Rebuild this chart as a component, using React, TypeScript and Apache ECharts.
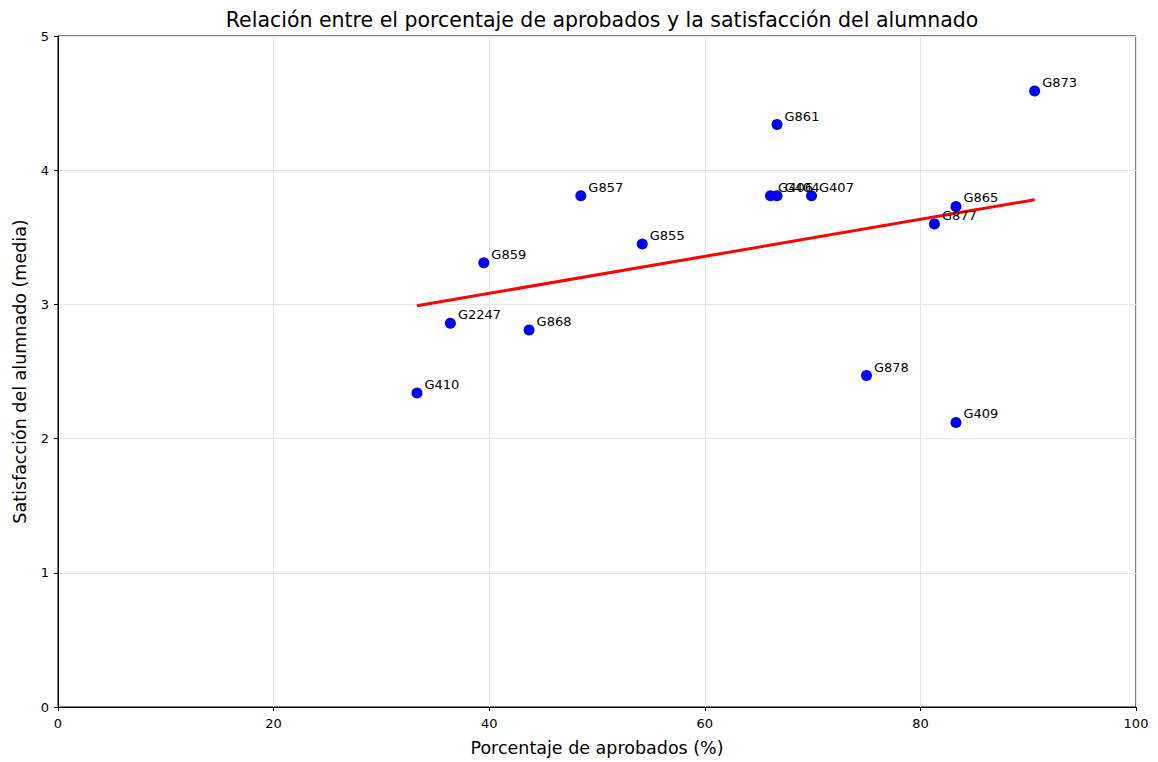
import React, { useEffect, useRef } from "react";
import * as echarts from "echarts";

const groups = ["G873", "G861", "G857", "G406", "G404", "G407", "G865", "G877", "G855", "G859", "G2247", "G868", "G410", "G878", "G409"];
const aprobados = [90.6, 66.7, 48.5, 66.1, 66.7, 69.9, 83.3, 81.3, 54.2, 39.5, 36.4, 43.7, 33.3, 75.0, 83.3];
const satisfaccion = [4.59, 4.34, 3.81, 3.81, 3.81, 3.81, 3.73, 3.60, 3.45, 3.31, 2.86, 2.81, 2.34, 2.47, 2.12];
const trendX = [33.3, 90.6];
const trendY = [2.99, 3.78];

const FONT = "DejaVu Sans";

export default function App() {
  const ref = useRef<HTMLDivElement>(null);
  useEffect(() => {
    document.body.style.margin = "0";
    const chart = echarts.init(ref.current!, null, { renderer: "svg" });
    chart.setOption({
      animation: false,
      textStyle: { fontFamily: FONT },
      title: {
        text: "Relación entre el porcentaje de aprobados y la satisfacción del alumnado",
        left: 597,
        textAlign: "center",
        top: 4,
        textStyle: { fontFamily: FONT, fontSize: 20.5, fontWeight: "normal", color: "#000" },
      },
      grid: { left: 58, right: 22, top: 36, bottom: 53, show: true, borderColor: "#000", borderWidth: 1, backgroundColor: "transparent" },
      xAxis: {
        type: "value", min: 0, max: 100, interval: 20,
        name: "Porcentaje de aprobados (%)", nameLocation: "middle", nameGap: 32,
        nameTextStyle: { fontFamily: FONT, fontSize: 17.5, color: "#000" },
        axisLine: { show: true, onZero: false, lineStyle: { color: "#000" } },
        axisTick: { show: true, length: 4, lineStyle: { color: "#000" } },
        axisLabel: { fontFamily: FONT, fontSize: 13, color: "#000", margin: 10 },
        splitLine: { show: true, lineStyle: { color: "#e6e6e6" } },
      },
      yAxis: {
        type: "value", min: 0, max: 5, interval: 1,
        name: "Satisfacción del alumnado (media)", nameLocation: "middle", nameGap: 29,
        nameTextStyle: { fontFamily: FONT, fontSize: 17.5, color: "#000" },
        axisLine: { show: true, onZero: false, lineStyle: { color: "#000" } },
        axisTick: { show: true, length: 4, lineStyle: { color: "#000" } },
        axisLabel: { fontFamily: FONT, fontSize: 13, color: "#000", margin: 9 },
        splitLine: { show: true, lineStyle: { color: "#e6e6e6" } },
      },
      series: [
        {
          type: "line",
          data: trendX.map((x, i) => [x, trendY[i]]),
          showSymbol: false,
          symbol: "none",
          lineStyle: { color: "#ff0000", width: 3 },
          z: 2,
        },
        {
          type: "scatter",
          data: aprobados.map((x, i) => ({ value: [x, satisfaccion[i]], name: groups[i] })),
          symbolSize: 11,
          itemStyle: { color: "#0000ff", opacity: 1 },
          label: {
            show: true,
            position: [13, -3],
            align: "left",
            verticalAlign: "middle",
            formatter: (p: any) => p.name,
            fontFamily: FONT,
            fontSize: 13,
            color: "#000",
          },
          labelLayout: { hideOverlap: false },
          z: 3,
        },
      ],
    });
    return () => chart.dispose();
  }, []);
  return <div ref={ref} style={{ width: 1158, height: 762 }} />;
}
